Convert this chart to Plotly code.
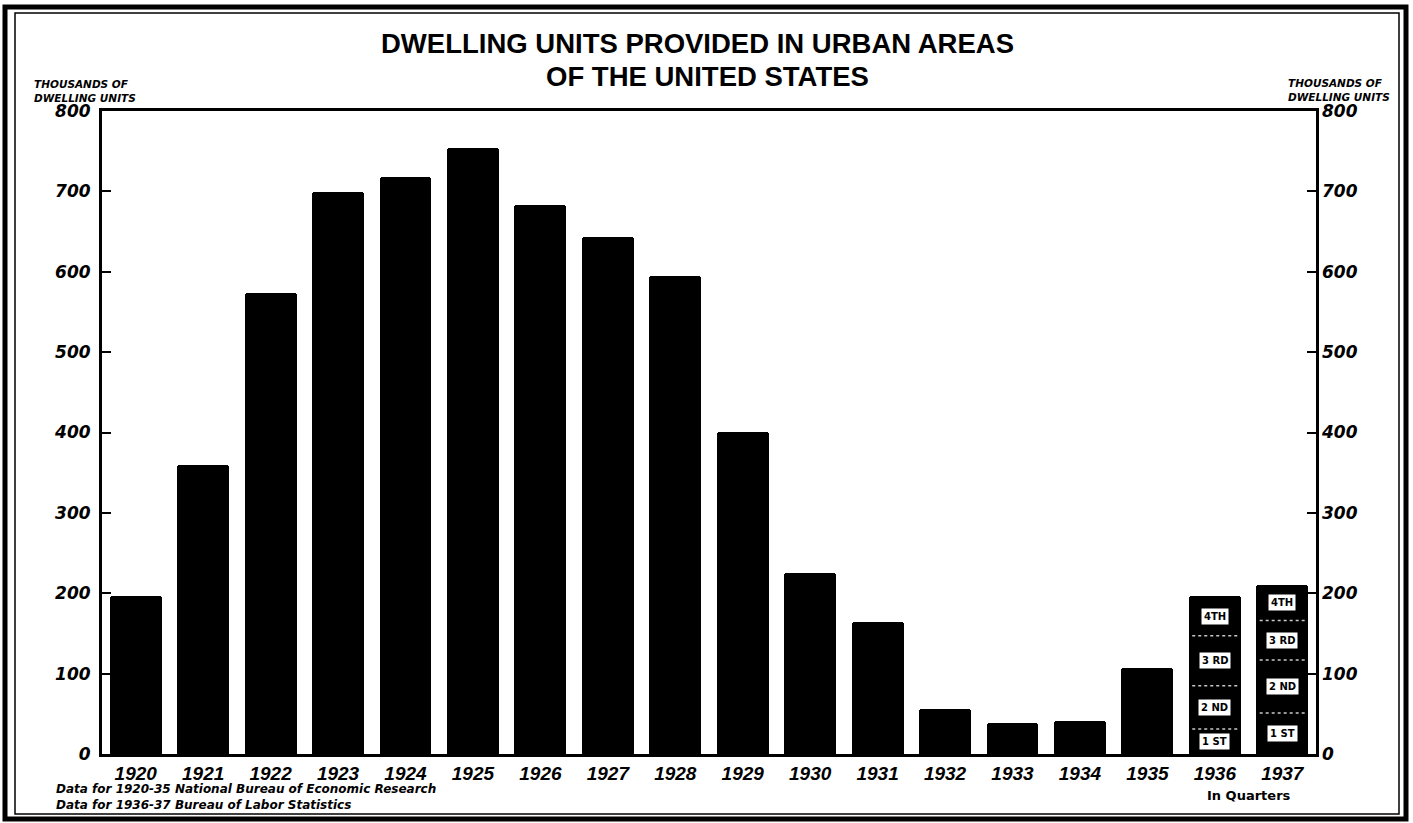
import plotly.graph_objects as go

# ---------------- data ----------------
years = ["1920", "1921", "1922", "1923", "1924", "1925", "1926", "1927", "1928",
         "1929", "1930", "1931", "1932", "1933", "1934", "1935", "1936", "1937"]
annual_units = [197, 359, 574, 699, 718, 754, 683, 643, 595,
                401, 225, 164, 56, 39, 41, 107, None, None]
quarter_years = ["1936", "1937"]
q1_units = [31, 51]
q2_units = [54, 66]
q3_units = [62, 49]
q4_units = [49, 44]
quarter_labels = ["1 ST", "2 ND", "3 RD", "4TH"]
y_ticks = [0, 100, 200, 300, 400, 500, 600, 700, 800]

W, H = 1413, 823
ML, MR, MT, MB = 102, 97, 111, 69
PW, PH = W - ML - MR, H - MT - MB


def px_x(p):
    return (p - ML) / PW


def px_y(p):
    return (H - MB - p) / PH


xpos = list(range(len(years)))
qx = [years.index(y) for y in quarter_years]
BAR_W = 0.77

fig = go.Figure()
fig.add_trace(go.Bar(
    x=xpos, y=annual_units, width=BAR_W,
    marker=dict(color="black", line=dict(width=0), cornerradius=3),
    showlegend=False, hoverinfo="x+y"))

quarters = [q1_units, q2_units, q3_units, q4_units]
for qi, q in enumerate(quarters):
    fig.add_trace(go.Bar(
        x=qx, y=q, width=BAR_W,
        marker=dict(color="black", line=dict(width=0), cornerradius=3),
        showlegend=False, name=quarter_labels[qi]))

# quarter dividers and labels
annotations = []
for j, xi in enumerate(qx):
    cum = 0
    for qi, q in enumerate(quarters):
        lo = cum
        cum += q[j]
        annotations.append(dict(
            x=xi, y=(lo + cum) / 2, xref="x", yref="y", text="<b>%s</b>" % quarter_labels[qi],
            showarrow=False, bgcolor="white", borderpad=2,
            font=dict(family="DejaVu Sans", size=10, color="black")))
        if qi < 3:
            fig.add_trace(go.Scatter(
                x=[xi - BAR_W / 2 + 0.05, xi + BAR_W / 2 - 0.05], y=[cum, cum],
                mode="lines", line=dict(color="#c8c8c8", width=1.5, dash="dot"),
                showlegend=False, hoverinfo="skip"))

# invisible trace for right axis
fig.add_trace(go.Scatter(x=xpos, y=annual_units, yaxis="y2", mode="markers",
                         marker=dict(opacity=0), showlegend=False, hoverinfo="skip"))

tick_font_y = dict(family="DejaVu Sans", size=17, color="black", style="italic", weight="bold")
tick_font_x = dict(family="Liberation Sans", size=19, color="black", style="italic", weight="bold")

fig.update_layout(
    width=W, height=H,
    margin=dict(l=ML, r=MR, t=MT, b=MB, pad=0),
    paper_bgcolor="white", plot_bgcolor="white",
    barmode="stack", bargap=0,
    xaxis=dict(range=[-0.5, len(years) - 0.5], tickmode="array", tickvals=xpos, ticktext=years,
               showgrid=False, zeroline=False, showline=True, linecolor="black", linewidth=3,
               mirror=True, ticks="", tickfont=tick_font_x, ticklabelstandoff=0),
    yaxis=dict(range=[0, 800], tickmode="array", tickvals=y_ticks,
               showgrid=False, zeroline=False, showline=True, linecolor="black", linewidth=3,
               mirror=True, ticks="inside", ticklen=9, tickwidth=2, tickcolor="black",
               tickfont=tick_font_y, ticklabelstandoff=5),
    yaxis2=dict(range=[0, 800], tickmode="array", tickvals=y_ticks, overlaying="y", side="right",
                showgrid=False, zeroline=False, showline=False,
                ticks="inside", ticklen=9, tickwidth=2, tickcolor="black",
                tickfont=tick_font_y, ticklabelstandoff=5),
)

# title
title_font = dict(family="Liberation Sans", size=27.5, color="black")
annotations.append(dict(x=px_x(697), y=px_y(43), xref="paper", yref="paper",
                        text="<b>DWELLING UNITS PROVIDED IN URBAN AREAS</b>", showarrow=False,
                        font=title_font, xanchor="center", yanchor="middle"))
annotations.append(dict(x=px_x(707), y=px_y(77), xref="paper", yref="paper",
                        text="<b>OF THE UNITED STATES</b>", showarrow=False,
                        font=title_font, xanchor="center", yanchor="middle"))

small_font = dict(family="DejaVu Sans", size=10.5, color="black", style="italic", weight="bold")
annotations.append(dict(x=px_x(32), y=px_y(91), xref="paper", yref="paper",
                        text="THOUSANDS OF<br>DWELLING UNITS", showarrow=False, align="left",
                        font=small_font, xanchor="left", yanchor="middle"))
annotations.append(dict(x=px_x(1286), y=px_y(90), xref="paper", yref="paper",
                        text="THOUSANDS OF<br>DWELLING UNITS", showarrow=False, align="left",
                        font=small_font, xanchor="left", yanchor="middle"))

note_font = dict(family="DejaVu Sans", size=12, color="black", style="italic", weight="bold")
annotations.append(dict(x=px_x(54), y=px_y(797), xref="paper", yref="paper",
                        text="Data for 1920-35 National Bureau of Economic Research<br>"
                             "Data for 1936-37 Bureau of Labor Statistics",
                        showarrow=False, align="left", font=note_font,
                        xanchor="left", yanchor="middle"))
annotations.append(dict(x=(qx[0] + qx[1]) / 2, y=px_y(795), xref="x", yref="paper",
                        text="<b>In Quarters</b>", showarrow=False,
                        font=dict(family="DejaVu Sans", size=13, color="black"),
                        xanchor="center", yanchor="middle"))

fig.update_layout(annotations=annotations)

# double frame around the whole chart
shapes = [
    dict(type="rect", xref="paper", yref="paper",
         x0=px_x(5), x1=px_x(1406), y0=px_y(7), y1=px_y(819),
         line=dict(color="black", width=5), fillcolor="rgba(0,0,0,0)", layer="above"),
    dict(type="rect", xref="paper", yref="paper",
         x0=px_x(15), x1=px_x(1399), y0=px_y(13), y1=px_y(814),
         line=dict(color="black", width=1.5), fillcolor="rgba(0,0,0,0)", layer="above"),
]
fig.update_layout(shapes=shapes)

fig.write_html("out.html")
